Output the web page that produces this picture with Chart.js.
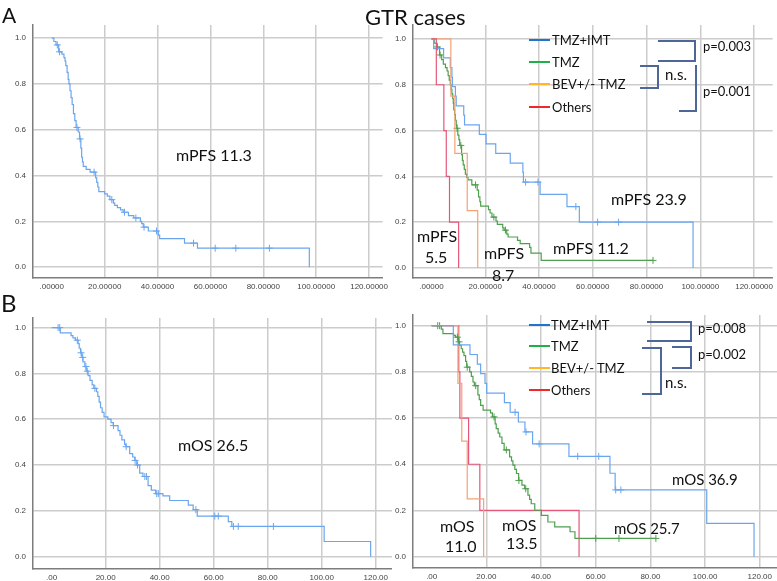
<!DOCTYPE html>
<html>
<head>
<meta charset="utf-8">
<script src="https://cdn.jsdelivr.net/npm/chart.js@4.4.1/dist/chart.umd.min.js"></script>
<style>
  body { margin: 0; background: #fff; }
  #wrap { position: relative; width: 777px; height: 581px; overflow: hidden; background: #fff; }
  canvas { position: absolute; background: #fff; }
  .t { position: absolute; font-family: Lato, "Open Sans", sans-serif; color: #111; white-space: nowrap; line-height: 1; }
  .sw { position: absolute; width: 21px; height: 2px; }
  .br { position: absolute; box-sizing: border-box; border: 0 solid #4f6699; }
</style>
</head>
<body>
<div id="wrap">
  <canvas id="aLeft" width="392" height="292" style="left:0;top:0"></canvas>
  <canvas id="aRight" width="385" height="292" style="left:392px;top:0"></canvas>
  <canvas id="bLeft" width="392" height="289" style="left:0;top:292px"></canvas>
  <canvas id="bRight" width="385" height="289" style="left:392px;top:292px"></canvas>

  <div class="t" style="left:2px;top:4px;font-size:21px">A</div>
  <div class="t" style="left:1px;top:291px;font-size:24px">B</div>
  <div class="t" style="left:365px;top:6px;font-size:22px">GTR cases</div>

  <!-- A: PFS -->
  <div class="t" style="left:176px;top:147px;font-size:16px">mPFS 11.3</div>
  <div class="t" style="left:611px;top:191px;font-size:16px">mPFS 23.9</div>
  <div class="t" style="left:553px;top:240px;font-size:16px">mPFS 11.2</div>
  <div class="t" style="left:417px;top:228px;font-size:16px">mPFS</div>
  <div class="t" style="left:425px;top:249px;font-size:16px">5.5</div>
  <div class="t" style="left:484px;top:245px;font-size:16px">mPFS</div>
  <div class="t" style="left:492px;top:267px;font-size:16px">8.7</div>

  <div class="sw" style="left:529px;top:39px;background:#2272d0"></div>
  <div class="sw" style="left:529px;top:61px;background:#1fb04a"></div>
  <div class="sw" style="left:529px;top:83px;background:#ffb628"></div>
  <div class="sw" style="left:529px;top:106px;background:#f02828"></div>
  <div class="t" style="left:552px;top:34px;font-size:13px">TMZ+IMT</div>
  <div class="t" style="left:552px;top:56px;font-size:13px">TMZ</div>
  <div class="t" style="left:552px;top:78px;font-size:13px">BEV+/- TMZ</div>
  <div class="t" style="left:552px;top:101px;font-size:13px">Others</div>

  <div class="br" style="left:658px;top:40px;width:38px;height:22px;border-width:2px 2px 2px 0"></div>
  <div class="br" style="left:640px;top:65px;width:19px;height:24px;border-width:2px 2px 2px 0"></div>
  <div class="br" style="left:679px;top:65px;width:18px;height:47px;border-width:0 2px 2px 0"></div>
  <div class="t" style="left:703px;top:40px;font-size:13px">p=0.003</div>
  <div class="t" style="left:665px;top:67px;font-size:15px">n.s.</div>
  <div class="t" style="left:703px;top:85px;font-size:13px">p=0.001</div>

  <!-- B: OS -->
  <div class="t" style="left:178px;top:437px;font-size:16px">mOS 26.5</div>
  <div class="t" style="left:672px;top:472px;font-size:15px">mOS 36.9</div>
  <div class="t" style="left:614px;top:521px;font-size:15px">mOS 25.7</div>
  <div class="t" style="left:440px;top:518px;font-size:16px">mOS</div>
  <div class="t" style="left:445px;top:538px;font-size:16px">11.0</div>
  <div class="t" style="left:502px;top:517px;font-size:16px">mOS</div>
  <div class="t" style="left:506px;top:535px;font-size:16px">13.5</div>

  <div class="sw" style="left:529px;top:324px;background:#2272d0"></div>
  <div class="sw" style="left:529px;top:345px;background:#1fb04a"></div>
  <div class="sw" style="left:529px;top:367px;background:#ffb628"></div>
  <div class="sw" style="left:529px;top:389px;background:#f02828"></div>
  <div class="t" style="left:551px;top:319px;font-size:13px">TMZ+IMT</div>
  <div class="t" style="left:551px;top:340px;font-size:13px">TMZ</div>
  <div class="t" style="left:551px;top:362px;font-size:13px">BEV+/- TMZ</div>
  <div class="t" style="left:551px;top:384px;font-size:13px">Others</div>

  <div class="br" style="left:647px;top:321px;width:45px;height:21px;border-width:2px 2px 2px 0"></div>
  <div class="br" style="left:672px;top:346px;width:20px;height:23px;border-width:2px 2px 2px 0"></div>
  <div class="br" style="left:642px;top:347px;width:20px;height:48px;border-width:2px 2px 2px 0"></div>
  <div class="t" style="left:698px;top:322px;font-size:13px">p=0.008</div>
  <div class="t" style="left:698px;top:348px;font-size:13px">p=0.002</div>
  <div class="t" style="left:665px;top:375px;font-size:15px">n.s.</div>
</div>

<script>
// axis ticks
const xTickValues = [0, 20, 40, 60, 80, 100, 120];
const xLabelsA = [".00000", "20.00000", "40.00000", "60.00000", "80.00000", "100.00000", "120.00000"];
const xLabelsB = [".00", "20.00", "40.00", "60.00", "80.00", "100.00", "120.00"];
const yTickValues = [0, 0.2, 0.4, 0.6, 0.8, 1.0];
const yLabels = ["0.0", "0.2", "0.4", "0.6", "0.8", "1.0"];

// A left: PFS, all GTR cases (event times, survival after event, censored times)
const pfsAllT = [0.8, 1.6, 2.6, 3.8, 4.6, 5.0, 5.3, 5.8, 6.2, 6.5, 6.9, 7.3, 7.7, 8.2, 8.7, 9.2, 10.0, 10.5, 11.0, 11.3, 11.6, 11.9, 13.0, 14.5, 16.6, 17.0, 17.4, 17.8, 20.0, 21.0, 22.0, 23.3, 23.8, 24.8, 26.0, 27.0, 29.0, 31.0, 33.5, 34.0, 34.6, 36.5, 40.3, 40.8, 50.2, 55.1, 97.4];
const pfsAllS = [0.985, 0.97, 0.94, 0.93, 0.915, 0.9, 0.88, 0.85, 0.82, 0.8, 0.77, 0.74, 0.71, 0.67, 0.64, 0.61, 0.59, 0.56, 0.52, 0.48, 0.46, 0.44, 0.427, 0.415, 0.39, 0.37, 0.35, 0.33, 0.32, 0.31, 0.295, 0.28, 0.27, 0.26, 0.25, 0.24, 0.225, 0.215, 0.2, 0.19, 0.175, 0.158, 0.14, 0.125, 0.105, 0.083, 0];
const pfsAllC = [2.1, 2.95, 9.5, 10.7, 16.0, 22.7, 27.5, 31.8, 34.9, 39.6, 53.6, 61.8, 69.6, 82.3];

// A right: PFS by treatment
const pfsImtT = [0.8, 4.5, 7.0, 7.6, 7.8, 8.9, 9.2, 12.0, 12.3, 17.8, 20.3, 23.9, 29.3, 34.0, 34.2, 40.4, 50.4, 55.0, 97.3];
const pfsImtS = [0.958, 0.917, 0.875, 0.833, 0.792, 0.75, 0.708, 0.667, 0.625, 0.583, 0.542, 0.5, 0.458, 0.417, 0.375, 0.321, 0.268, 0.2, 0];
const pfsImtC = [35.0, 39.6, 53.7, 61.8, 69.6];

const pfsTmzT = [1.0, 2.0, 3.0, 3.8, 4.4, 5.2, 5.8, 6.2, 6.6, 7.0, 7.3, 7.6, 7.9, 8.1, 8.3, 8.6, 8.9, 9.2, 9.4, 9.8, 10.2, 10.5, 11.2, 11.5, 11.8, 12.2, 12.6, 13.1, 13.6, 15.0, 17.0, 17.5, 18.0, 18.3, 21.2, 21.8, 22.5, 24.0, 24.5, 26.5, 27.0, 28.0, 28.5, 32.0, 33.0, 36.5, 37.0, 40.8];
const pfsTmzS = [0.982, 0.965, 0.93, 0.91, 0.89, 0.875, 0.86, 0.84, 0.82, 0.8, 0.78, 0.76, 0.74, 0.72, 0.69, 0.67, 0.645, 0.625, 0.61, 0.58, 0.56, 0.535, 0.495, 0.47, 0.45, 0.43, 0.41, 0.395, 0.385, 0.363, 0.34, 0.31, 0.29, 0.27, 0.255, 0.24, 0.222, 0.205, 0.19, 0.175, 0.165, 0.148, 0.135, 0.12, 0.106, 0.09, 0.065, 0.033];
const pfsTmzC = [2.2, 3.2, 9.5, 10.9, 16.4, 23.2, 27.5, 82.4];

const pfsBevT = [7.2, 8.7, 13.3, 17.2];
const pfsBevS = [0.75, 0.5, 0.25, 0];

const pfsOthT = [1.8, 4.6, 5.5, 6.7, 10.1];
const pfsOthS = [0.8, 0.6, 0.4, 0.2, 0];

// B left: OS, all GTR cases
const osAllT = [3.2, 7.2, 7.9, 8.8, 9.8, 10.2, 10.7, 11.2, 11.6, 12.3, 12.8, 13.5, 14.2, 15.0, 15.6, 16.6, 17.1, 17.6, 18.1, 18.7, 19.4, 20.8, 22.0, 22.8, 24.6, 25.3, 26.0, 27.0, 27.5, 28.9, 30.0, 30.8, 31.5, 32.6, 33.8, 35.7, 36.9, 38.5, 41.2, 43.7, 50.6, 52.4, 53.9, 65.4, 66.7, 100.9, 118.1];
const osAllS = [0.977, 0.965, 0.955, 0.945, 0.93, 0.91, 0.89, 0.87, 0.85, 0.83, 0.81, 0.79, 0.77, 0.75, 0.735, 0.72, 0.7, 0.675, 0.65, 0.63, 0.61, 0.6, 0.585, 0.572, 0.55, 0.53, 0.51, 0.49, 0.48, 0.45, 0.435, 0.42, 0.4, 0.365, 0.35, 0.31, 0.29, 0.275, 0.265, 0.245, 0.225, 0.205, 0.177, 0.153, 0.132, 0.066, 0];
const osAllC = [2.4, 3.0, 9.5, 10.9, 11.5, 12.7, 13.2, 16.0, 22.9, 27.6, 30.9, 31.8, 34.5, 35.1, 38.9, 39.5, 53.4, 60.4, 61.7, 67.3, 69.1, 82.1];

// B right: OS by treatment
const osImtT = [7.9, 14.0, 16.7, 17.9, 19.5, 20.1, 26.6, 28.7, 31.7, 34.1, 36.9, 50.2, 65.2, 67.1, 100.6, 117.9];
const osImtS = [0.917, 0.875, 0.833, 0.792, 0.75, 0.708, 0.667, 0.625, 0.583, 0.54, 0.488, 0.434, 0.361, 0.289, 0.144, 0];
const osImtC = [30.5, 34.5, 39.3, 53.4, 61.1, 67.3, 69.2];

const osTmzT = [3.5, 4.1, 8.0, 8.7, 9.8, 10.2, 10.8, 11.3, 11.8, 12.4, 12.8, 13.9, 14.5, 15.1, 15.6, 16.9, 17.4, 17.9, 18.8, 21.5, 22.2, 23.2, 23.6, 24.3, 24.9, 25.7, 26.5, 28.5, 29.2, 29.7, 30.4, 31.0, 31.8, 33.0, 34.0, 35.2, 35.8, 36.4, 37.7, 40.1, 42.5, 45.0, 50.6, 52.4];
const osTmzS = [0.985, 0.965, 0.958, 0.95, 0.93, 0.915, 0.9, 0.885, 0.87, 0.845, 0.82, 0.8, 0.78, 0.756, 0.74, 0.7, 0.68, 0.655, 0.634, 0.622, 0.605, 0.575, 0.554, 0.535, 0.518, 0.49, 0.462, 0.432, 0.415, 0.396, 0.378, 0.36, 0.33, 0.31, 0.294, 0.266, 0.248, 0.229, 0.201, 0.179, 0.15, 0.129, 0.108, 0.079];
const osTmzC = [2.2, 2.9, 9.4, 10.0, 13.0, 16.1, 22.8, 27.3, 31.9, 34.4, 60.0, 68.5, 82.0];

const osBevT = [9.6, 11.0, 13.0, 19.0];
const osBevS = [0.75, 0.5, 0.25, 0];

const osOthT = [9.9, 10.3, 13.5, 17.6, 53.9];
const osOthS = [0.8, 0.6, 0.4, 0.2, 0];

const BLUE = "#6aa6ee";
const GREEN = "#4e9f4e";
const ORANGE = "#f5a275";
const RED = "#e5577a";
const GRID = "#cccccc";
const AXIS = "#7d7d7d";

// step curve points, extended to the last censored case
function kmLine(times, surv, censors) {
  const pts = [{ x: 0, y: 1 }];
  times.forEach((t, i) => pts.push({ x: t, y: surv[i] }));
  const lastC = censors.length ? Math.max(...censors) : 0;
  if (lastC > times[times.length - 1]) pts.push({ x: lastC, y: surv[surv.length - 1] });
  return pts;
}

function survAt(times, surv, t) {
  let s = 1;
  times.forEach((tt, i) => {
    if (tt <= t) s = surv[i];
  });
  return s;
}

function curve(times, surv, censors, color) {
  const sets = [
    {
      data: kmLine(times, surv, censors),
      showLine: true,
      stepped: true,
      borderColor: color,
      borderWidth: 1.2,
      pointRadius: 0,
    },
  ];
  if (censors.length) {
    sets.push({
      data: censors.map((c) => ({ x: c, y: survAt(times, surv, c) })),
      showLine: false,
      pointStyle: "cross",
      pointRadius: 3.5,
      borderColor: color,
      pointBorderWidth: 1,
    });
  }
  return sets;
}

function makePanel(id, p) {
  const tickFont = { family: "'Liberation Sans', Arial, sans-serif", size: 8 };
  new Chart(document.getElementById(id), {
    type: "scatter",
    data: { datasets: p.datasets },
    options: {
      animation: false,
      responsive: false,
      devicePixelRatio: 1,
      layout: { autoPadding: false, padding: { top: p.top, left: 0, right: 0, bottom: 0 } },
      plugins: { legend: { display: false }, tooltip: { enabled: false } },
      scales: {
        x: {
          type: "linear",
          display: true,
          min: p.xMin,
          max: p.xMax,
          afterFit: (s) => { s.height = p.xH; },
          afterBuildTicks: (s) => { s.ticks = xTickValues.map((v) => ({ value: v })); },
          ticks: {
            callback: (v, i) => p.xLabels[i],
            font: tickFont,
            color: "#444",
            padding: 4,
            maxRotation: 0,
            autoSkip: false,
          },
          grid: {
            display: true,
            drawOnChartArea: true,
            lineWidth: (c) => (c.tick && c.tick.value === 0 ? 0 : 1.5),
            color: GRID,
            drawTicks: false,
          },
          border: { display: true, color: AXIS, width: 1.5 },
        },
        y: {
          type: "linear",
          display: true,
          min: p.yMin,
          max: p.yMax,
          afterFit: (s) => { s.width = p.yW; },
          afterBuildTicks: (s) => { s.ticks = yTickValues.map((v) => ({ value: v })); },
          ticks: {
            callback: (v, i) => yLabels[i],
            font: tickFont,
            color: "#444",
            padding: 7,
            autoSkip: false,
          },
          grid: { display: true, drawOnChartArea: true, lineWidth: 1.5, color: GRID, drawTicks: false },
          border: { display: true, color: AXIS, width: 1.5 },
        },
      },
    },
  });
}

makePanel("aLeft", {
  top: 25, xH: 14, yW: 33,
  xMin: -7.1, xMax: 125.1, yMin: -0.047, yMax: 1.057,
  xLabels: xLabelsA,
  datasets: curve(pfsAllT, pfsAllS, pfsAllC, BLUE),
});

makePanel("aRight", {
  top: 25, xH: 14, yW: 21,
  xMin: -6.875, xMax: 126.9, yMin: -0.044, yMax: 1.061,
  xLabels: xLabelsA,
  datasets: [
    ...curve(pfsOthT, pfsOthS, [], RED),
    ...curve(pfsBevT, pfsBevS, [], ORANGE),
    ...curve(pfsImtT, pfsImtS, pfsImtC, BLUE),
    ...curve(pfsTmzT, pfsTmzS, pfsTmzC, GREEN),
  ],
});

makePanel("bLeft", {
  top: 26, xH: 12, yW: 33,
  xMin: -6.9, xMax: 126.0, yMin: -0.054, yMax: 1.042,
  xLabels: xLabelsB,
  datasets: curve(osAllT, osAllS, osAllC, BLUE),
});

makePanel("bRight", {
  top: 23, xH: 13, yW: 21,
  xMin: -6.84, xMax: 126.3, yMin: -0.049, yMax: 1.046,
  xLabels: xLabelsB,
  datasets: [
    ...curve(osImtT, osImtS, osImtC, BLUE),
    ...curve(osTmzT, osTmzS, osTmzC, GREEN),
    ...curve(osBevT, osBevS, [], ORANGE),
    ...curve(osOthT, osOthS, [], RED),
  ],
});
</script>
</body>
</html>
